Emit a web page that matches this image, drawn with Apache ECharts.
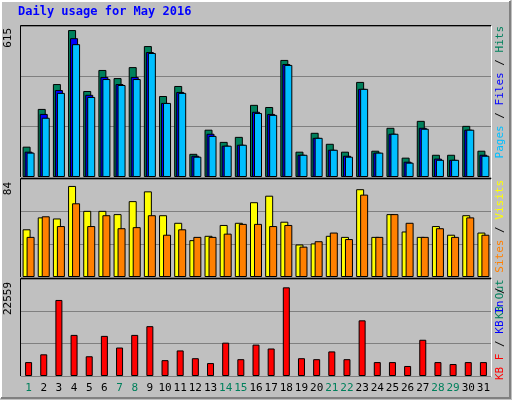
<!DOCTYPE html>
<html><head><meta charset="utf-8">
<script src="https://cdn.jsdelivr.net/npm/echarts@6/dist/echarts.min.js"></script>
<style>html,body{margin:0;padding:0;background:#c0c0c0}#chart{width:512px;height:400px}</style>
</head><body><div id="chart"></div>
<script>
var days = ['1','2','3','4','5','6','7','8','9','10','11','12','13','14','15','16','17','18','19','20','21','22','23','24','25','26','27','28','29','30','31'];
var weekend = ['1','7','8','14','15','21','22','28','29'];
var hits  = [127,285,389,615,360,448,414,460,548,339,381,97,198,147,168,302,293,490,106,185,139,106,398,110,206,81,235,93,93,214,110];
var files = [106,264,364,581,344,419,389,419,523,310,356,89,181,131,135,273,264,473,93,164,114,89,369,102,181,64,206,77,72,198,93];
var pages = [102,248,352,556,335,410,385,410,519,310,352,85,172,131,135,268,260,469,93,164,114,85,369,102,181,60,202,72,72,198,89];
var visits = [44,55,54,84,61,61,58,70,79,57,50,34,38,48,50,69,75,51,30,31,38,37,81,37,58,42,37,47,39,57,41];
var sites  = [37,56,47,68,47,57,45,46,57,39,44,37,37,40,49,49,47,48,28,33,41,35,76,37,58,50,37,45,37,55,39];
var kbytes = [3540,5516,19348,10456,5022,10209,7245,10456,12679,4034,6504,4528,3293,8480,4281,7986,6998,22559,4528,4281,6257,4281,14161,3540,3540,2552,9221,3540,3046,3540,3540];

var chart = echarts.init(document.getElementById('chart'));
var mono = 'DejaVu Sans Mono';
var panels = [[26, 151, 632], [179, 98, 90.4], [279, 97, 24680]];
var grids = [], xAxes = [], yAxes = [];
panels.forEach(function (p, i) {
  grids.push({left: 21, width: 470, top: p[0], height: p[1]});
  xAxes.push({
    type: 'category', data: days, gridIndex: i,
    axisLine: {show: false}, axisTick: {show: false},
    axisLabel: i < 2 ? {show: false} : {
      fontFamily: mono, fontSize: 11, margin: 7, interval: 0,
      formatter: function (v) { return weekend.indexOf(v) >= 0 ? '{w|' + v + '}' : v; },
      color: '#000', rich: {w: {color: '#00805c', fontFamily: mono, fontSize: 11}}
    }
  });
  yAxes.push({
    type: 'value', gridIndex: i, min: 0, max: p[2], interval: p[2] / 3,
    axisLabel: {show: false}, axisLine: {show: false}, axisTick: {show: false},
    splitLine: {lineStyle: {color: '#808080', width: 1}}
  });
});

function bars(name, data, idx, color, w, gap) {
  return {
    name: name, type: 'bar', data: data, xAxisIndex: idx, yAxisIndex: idx,
    barWidth: w, barGap: gap, animation: false,
    itemStyle: {color: color, borderColor: '#000', borderWidth: 1}
  };
}

function frame(x, y, w, h, tl, br, lw) {
  return [
    {type: 'polyline', shape: {points: [[x, y + h], [x, y], [x + w, y]]}, style: {stroke: tl, lineWidth: lw, fill: null}},
    {type: 'polyline', shape: {points: [[x + w, y], [x + w, y + h], [x, y + h]]}, style: {stroke: br, lineWidth: lw, fill: null}}
  ];
}

var gfx = [];
gfx = gfx.concat(frame(1, 1, 509, 397, '#ffffff', '#808080', 2));
panels.forEach(function (p) { gfx = gfx.concat(frame(20.5, p[0] - 0.5, 471, p[1] + 1, '#000', '#fff', 1)); });
gfx.push({type: 'text', left: 18, top: 6, style: {text: 'Daily usage for May 2016', fill: '#0000ff', font: 'bold 12px ' + mono}});
function ylab(t, y) {
  return {type: 'text', x: 8, y: y, rotation: Math.PI / 2, style: {text: t, fill: '#000', font: '11px ' + mono, align: 'right', verticalAlign: 'middle'}};
}
gfx.push(ylab('615', 28), ylab('84', 182), ylab('22559', 282));
function rlab(y, parts) {
  var txt = parts.map(function (q) { return '{' + q[1] + '|' + q[0] + '}'; }).join('');
  var rich = {};
  var cols = {g: '#00805c', b: '#0000ff', c: '#00bfff', y: '#ffff00', o: '#ff8000', r: '#ff0000', k: '#000000'};
  Object.keys(cols).forEach(function (k) { rich[k] = {fill: cols[k], font: '11px ' + mono}; });
  return {type: 'text', x: 500, y: y, rotation: Math.PI / 2, style: {text: txt, rich: rich, align: 'right', verticalAlign: 'middle'}};
}
gfx.push(rlab(26, [['Pages', 'c'], [' / ', 'k'], ['Files', 'b'], [' / ', 'k'], ['Hits', 'g']]));
gfx.push(rlab(180, [['KB Out ', 'g'], ['Sites', 'o'], [' / ', 'k'], ['Visits', 'y']]));
gfx.push({type: 'text', x: 500, y: 380, rotation: Math.PI / 2, style: {text: '{r|KB F}{k| / }{b|KB In}{k| / }', align: 'left', verticalAlign: 'middle',
  rich: {r: {fill: '#ff0000', font: '11px ' + mono}, b: {fill: '#0000ff', font: '11px ' + mono}, k: {fill: '#000', font: '11px ' + mono}}}});

chart.setOption({
  backgroundColor: '#c0c0c0',
  animation: false,
  grid: grids, xAxis: xAxes, yAxis: yAxes,
  series: [
    bars('Hits', hits, 0, '#00805c', 8, '-75%'),
    bars('Files', files, 0, '#0000ff', 8, '-75%'),
    bars('Pages', pages, 0, '#00bfff', 8, '-75%'),
    bars('Visits', visits, 1, '#ffff00', 8, '-50%'),
    bars('Sites', sites, 1, '#ff8000', 8, '-50%'),
    bars('KBytes', kbytes, 2, '#ff0000', 7, '0%')
  ],
  graphic: gfx
});
</script></body></html>
